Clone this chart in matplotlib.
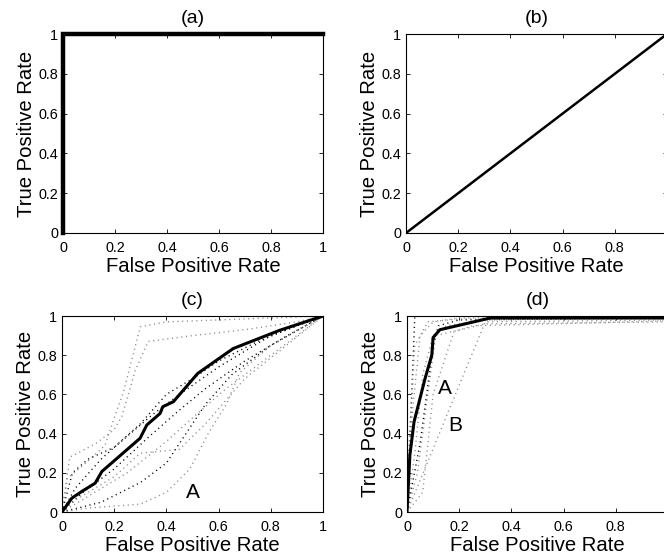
import matplotlib
matplotlib.use("Agg")
import matplotlib.pyplot as plt

plt.rcParams['font.family'] = ['Liberation Sans', 'DejaVu Sans']

# (a) perfect classifier
a_x = [0, 0, 1]
a_y = [0, 1, 1]
# (b) random classifier
b_x = [0, 1]
b_y = [0, 1]

# (c) mean ROC (thick) and individual ROCs (dotted)
c_mean_x = [0, 0.038, 0.076, 0.127, 0.153, 0.299, 0.325, 0.376, 0.386, 0.427, 0.52, 0.656, 0.834, 1]
c_mean_y = [0, 0.071, 0.105, 0.147, 0.207, 0.376, 0.444, 0.503, 0.537, 0.563, 0.707, 0.834, 0.927, 1]
c_runs = [
    ([0, 0.02, 0.1, 0.165, 0.2, 0.235, 0.3, 0.4, 0.6, 0.8, 1],
     [0, 0.17, 0.26, 0.34, 0.48, 0.61, 0.945, 0.97, 0.98, 0.99, 1], 'gray'),
    ([0, 0.03, 0.13, 0.2, 0.23, 0.28, 0.33, 0.5, 0.7, 0.9, 1],
     [0, 0.28, 0.35, 0.42, 0.49, 0.72, 0.87, 0.9, 0.93, 0.97, 1], 'gray'),
    ([0, 0.05, 0.15, 0.3, 0.4, 0.5, 0.6, 0.75, 0.9, 1],
     [0, 0.12, 0.27, 0.45, 0.6, 0.68, 0.77, 0.87, 0.95, 1], 'black'),
    ([0, 0.08, 0.2, 0.33, 0.45, 0.55, 0.7, 0.85, 1],
     [0, 0.1, 0.22, 0.38, 0.52, 0.63, 0.77, 0.89, 1], 'black'),
    ([0, 0.1, 0.25, 0.4, 0.5, 0.62, 0.75, 0.9, 1],
     [0, 0.08, 0.2, 0.36, 0.48, 0.62, 0.75, 0.9, 1], 'gray'),
    ([0, 0.15, 0.3, 0.4, 0.45, 0.55, 0.65, 0.8, 1],
     [0, 0.05, 0.15, 0.25, 0.35, 0.55, 0.7, 0.85, 1], 'black'),
    ([0, 0.1, 0.3, 0.4, 0.49, 0.56, 0.63, 0.68, 0.8, 1],
     [0, 0.02, 0.04, 0.1, 0.22, 0.4, 0.55, 0.71, 0.85, 1], 'gray'),
    ([0, 0.05, 0.2, 0.3, 0.45, 0.55, 0.7, 0.85, 1],
     [0, 0.06, 0.18, 0.3, 0.32, 0.45, 0.68, 0.84, 1], 'gray'),
    ([0, 0.04, 0.1, 0.2, 0.35, 0.45, 0.6, 0.8, 1],
     [0, 0.2, 0.27, 0.33, 0.5, 0.6, 0.74, 0.9, 1], 'black'),
]

# (d) mean ROC (thick) and individual ROCs (dotted)
d_mean_x = [0, 0.011, 0.027, 0.069, 0.095, 0.10, 0.126, 0.32, 1]
d_mean_y = [0, 0.29, 0.46, 0.68, 0.80, 0.89, 0.93, 0.99, 0.99]
d_runs = [
    ([0, 0.3, 1], [0, 0.97, 0.98], 'gray'),
    ([0, 0.03, 1], [0, 1, 1], 'black'),
    ([0, 0.02, 0.05, 0.1, 0.2, 1], [0, 0.5, 0.9, 0.97, 0.99, 1], 'gray'),
    ([0, 0.03, 0.06, 0.1, 0.15, 0.3, 1], [0, 0.3, 0.7, 0.9, 0.95, 0.98, 0.99], 'gray'),
    ([0, 0.04, 0.08, 0.11, 0.3, 1], [0, 0.2, 0.6, 0.9, 0.96, 0.97], 'gray'),
    ([0, 0.05, 0.1, 0.12, 0.2, 1], [0, 0.35, 0.85, 0.95, 0.98, 0.99], 'black'),
    ([0, 0.01, 0.03, 0.08, 0.2, 1], [0, 0.4, 0.85, 0.97, 0.985, 0.985], 'gray'),
    ([0, 0.06, 0.1, 0.18, 0.25, 1], [0, 0.1, 0.6, 0.92, 0.95, 0.975], 'gray'),
]

ticks = [0, 0.2, 0.4, 0.6, 0.8, 1]
tick_labels = ['0', '0.2', '0.4', '0.6', '0.8', '1']
# right-hand panels run past the figure edge, so their last x label is not visible
tick_labels_right = ['0', '0.2', '0.4', '0.6', '0.8', '']
titles = ['(a)', '(b)', '(c)', '(d)']

W, H = 664, 557
fig = plt.figure(figsize=(W / 100, H / 100), dpi=100)

def px_axes(l, t, r, b):
    return fig.add_axes([l / W, 1 - b / H, (r - l) / W, (b - t) / H])

axa = px_axes(63, 34, 323, 233)
axb = px_axes(406, 34, 667, 233)
axc = px_axes(62, 316, 323, 512)
axd = px_axes(407, 316, 668, 512)

for ax, t in zip([axa, axb, axc, axd], titles):
    ax.set_xlim(0, 1)
    ax.set_ylim(0, 1)
    ax.set_xticks(ticks)
    ax.set_xticklabels(tick_labels_right if ax in (axb, axd) else tick_labels)
    ax.set_yticks(ticks)
    ax.set_yticklabels(tick_labels)
    ax.tick_params(direction='in', top=True, right=True, length=3, width=0.6,
                   labelsize=10.4)
    ax.tick_params(axis='x', pad=5.5)
    ax.tick_params(axis='y', pad=3.5)
    for s in ax.spines.values():
        s.set_linewidth(0.8)
    ax.set_xlabel('False Positive Rate', fontsize=14.6, labelpad=1.5)
    ax.set_ylabel('True Positive Rate', fontsize=14.6, labelpad=1.5)
    ax.set_title(t, fontsize=14, pad=8)

dots = (0, (0.8, 2.6))

axa.plot(a_x, a_y, color='black', lw=3.2, clip_on=False, solid_joinstyle='miter')
axb.plot(b_x, b_y, color='black', lw=1.8)

for x, y, c in c_runs:
    axc.plot(x, y, ls=dots, lw=1.0, color=('#8a8a8a' if c == 'gray' else 'black'))
axc.plot(c_mean_x, c_mean_y, color='black', lw=2.2)
axc.text(0.50, 0.10, 'A', fontsize=15, ha='center', va='center')

for x, y, c in d_runs:
    axd.plot(x, y, ls=dots, lw=1.0, color=('#8a8a8a' if c == 'gray' else 'black'))
axd.plot(d_mean_x, d_mean_y, color='black', lw=2.2)
axd.text(0.147, 0.63, 'A', fontsize=15, ha='center', va='center')
axd.text(0.183, 0.44, 'B', fontsize=15, ha='center', va='center')

fig.savefig('out.png', dpi=100)
